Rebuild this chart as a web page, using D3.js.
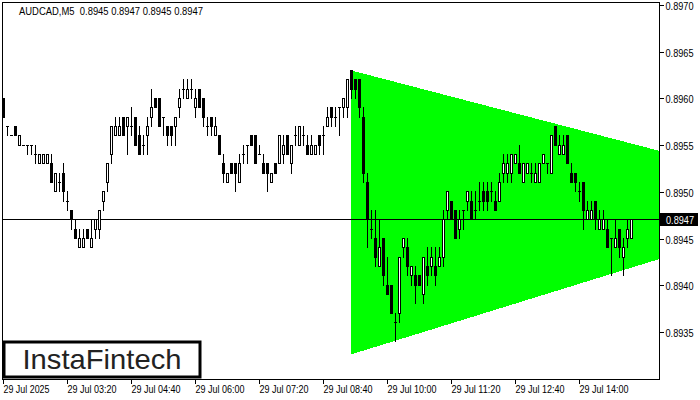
<!DOCTYPE html>
<html><head><meta charset="utf-8">
<script src="https://cdn.jsdelivr.net/npm/d3@7"></script>
<style>
body{margin:0;background:#fff}
svg{display:block}
text{font-family:"Liberation Sans",Arial,sans-serif}
</style>
</head><body>
<svg id="chart" width="700" height="400"></svg>
<script>
const titleText = "AUDCAD,M5  0.8945 0.8947 0.8945 0.8947";
const logoText = "InstaFintech";

const openP = [0.8960,0.8957,0.8956,0.8957,0.8955,0.8955,0.8955,0.8955,0.8954,0.8953,0.8953,0.8953,0.8953,0.8950,0.8951,0.8952,0.8949,0.8948,0.8946,0.8944,
0.8944,0.8946,0.8944,0.8946,0.8946,0.8949,0.8951,0.8954,0.8956,0.8956,0.8958,0.8957,0.8957,0.8958,0.8956,0.8955,0.8956,0.8958,0.8960,0.8960,
0.8958,0.8957,0.8957,0.8957,0.8959,0.8961,0.8960,0.8961,0.8959,0.8961,0.8960,0.8957,0.8958,0.8956,0.8956,0.8953,0.8951,0.8953,0.8953,0.8951,
0.8954,0.8955,0.8956,0.8956,0.8954,0.8953,0.8953,0.8951,0.8953,0.8953,0.8954,0.8956,0.8953,0.8956,0.8955,0.8956,0.8955,0.8954,0.8954,0.8956,
0.8956,0.8957,0.8959,0.8958,0.8959,0.8959,0.8959,0.8963,0.8962,0.8962,0.8958,0.8951,0.8946,0.8945,0.8942,0.8945,0.8940,0.8940,0.8936,0.8937,
0.8944,0.8944,0.8941,0.8941,0.8941,0.8939,0.8942,0.8942,0.8942,0.8942,0.8943,0.8948,0.8949,0.8948,0.8946,0.8948,0.8949,0.8949,0.8948,0.8949,
0.8950,0.8950,0.8950,0.8949,0.8949,0.8952,0.8952,0.8952,0.8953,0.8953,0.8951,0.8952,0.8952,0.8951,0.8951,0.8953,0.8953,0.8952,0.8957,0.8954,
0.8954,0.8956,0.8952,0.8952,0.8950,0.8951,0.8947,0.8947,0.8949,0.8946,0.8946,0.8946,0.8945,0.8944,0.8946,0.8943,0.8945,0.8945];
const highP = [0.8960,0.8957,0.8956,0.8957,0.8956,0.8955,0.8955,0.8955,0.8955,0.8954,0.8954,0.8954,0.8954,0.8952,0.8952,0.8953,0.8950,0.8948,0.8947,0.8946,
0.8946,0.8946,0.8947,0.8947,0.8948,0.8950,0.8953,0.8957,0.8958,0.8958,0.8958,0.8958,0.8959,0.8958,0.8957,0.8956,0.8958,0.8961,0.8960,0.8960,
0.8958,0.8957,0.8957,0.8958,0.8961,0.8962,0.8962,0.8962,0.8961,0.8961,0.8960,0.8958,0.8958,0.8958,0.8956,0.8954,0.8952,0.8953,0.8953,0.8954,
0.8955,0.8955,0.8956,0.8956,0.8955,0.8954,0.8953,0.8952,0.8953,0.8956,0.8956,0.8956,0.8955,0.8957,0.8957,0.8957,0.8956,0.8956,0.8955,0.8956,
0.8957,0.8959,0.8959,0.8959,0.8959,0.8960,0.8962,0.8963,0.8962,0.8962,0.8959,0.8952,0.8948,0.8948,0.8947,0.8945,0.8943,0.8940,0.8937,0.8943,
0.8945,0.8945,0.8942,0.8942,0.8941,0.8943,0.8944,0.8944,0.8944,0.8944,0.8948,0.8950,0.8949,0.8948,0.8948,0.8948,0.8950,0.8950,0.8950,0.8951,
0.8951,0.8951,0.8951,0.8950,0.8952,0.8954,0.8954,0.8954,0.8954,0.8955,0.8953,0.8953,0.8953,0.8953,0.8953,0.8954,0.8953,0.8956,0.8957,0.8956,
0.8956,0.8956,0.8953,0.8952,0.8951,0.8951,0.8949,0.8949,0.8949,0.8948,0.8948,0.8947,0.8945,0.8947,0.8946,0.8945,0.8947,0.8947];
const lowP = [0.8958,0.8956,0.8956,0.8956,0.8955,0.8955,0.8954,0.8954,0.8953,0.8953,0.8953,0.8953,0.8951,0.8950,0.8950,0.8949,0.8948,0.8946,0.8945,0.8944,
0.8944,0.8945,0.8944,0.8945,0.8945,0.8948,0.8950,0.8953,0.8956,0.8956,0.8956,0.8954,0.8956,0.8955,0.8954,0.8954,0.8954,0.8957,0.8959,0.8957,
0.8956,0.8955,0.8955,0.8955,0.8958,0.8960,0.8960,0.8960,0.8958,0.8959,0.8957,0.8956,0.8956,0.8956,0.8954,0.8951,0.8951,0.8952,0.8950,0.8951,
0.8953,0.8953,0.8955,0.8953,0.8954,0.8952,0.8950,0.8951,0.8952,0.8953,0.8953,0.8954,0.8952,0.8955,0.8955,0.8955,0.8954,0.8954,0.8954,0.8954,
0.8954,0.8957,0.8957,0.8957,0.8956,0.8958,0.8958,0.8960,0.8960,0.8958,0.8951,0.8944,0.8945,0.8942,0.8942,0.8940,0.8939,0.8937,0.8934,0.8936,
0.8943,0.8941,0.8940,0.8938,0.8940,0.8938,0.8940,0.8941,0.8940,0.8942,0.8942,0.8947,0.8947,0.8945,0.8945,0.8946,0.8948,0.8947,0.8947,0.8948,
0.8948,0.8948,0.8949,0.8948,0.8949,0.8951,0.8951,0.8951,0.8953,0.8952,0.8951,0.8952,0.8951,0.8951,0.8951,0.8953,0.8952,0.8952,0.8955,0.8954,
0.8954,0.8953,0.8951,0.8950,0.8949,0.8946,0.8947,0.8947,0.8946,0.8946,0.8946,0.8944,0.8941,0.8944,0.8943,0.8941,0.8944,0.8945];
const closeP = [0.8958,0.8957,0.8956,0.8956,0.8956,0.8955,0.8955,0.8955,0.8954,0.8954,0.8954,0.8954,0.8951,0.8952,0.8951,0.8950,0.8949,0.8947,0.8945,0.8945,
0.8945,0.8945,0.8945,0.8947,0.8948,0.8950,0.8953,0.8957,0.8957,0.8957,0.8956,0.8958,0.8957,0.8955,0.8954,0.8955,0.8957,0.8959,0.8959,0.8957,
0.8958,0.8956,0.8956,0.8958,0.8960,0.8961,0.8961,0.8961,0.8960,0.8959,0.8958,0.8957,0.8957,0.8957,0.8954,0.8952,0.8952,0.8952,0.8952,0.8953,
0.8954,0.8955,0.8955,0.8953,0.8954,0.8952,0.8952,0.8952,0.8952,0.8956,0.8955,0.8954,0.8955,0.8956,0.8957,0.8956,0.8954,0.8955,0.8955,0.8955,
0.8956,0.8958,0.8958,0.8958,0.8959,0.8960,0.8962,0.8961,0.8961,0.8959,0.8952,0.8947,0.8946,0.8943,0.8944,0.8941,0.8939,0.8937,0.8936,0.8943,
0.8945,0.8942,0.8942,0.8940,0.8940,0.8943,0.8941,0.8943,0.8941,0.8943,0.8947,0.8950,0.8947,0.8945,0.8947,0.8948,0.8950,0.8947,0.8948,0.8949,
0.8949,0.8949,0.8950,0.8948,0.8951,0.8953,0.8953,0.8954,0.8954,0.8952,0.8953,0.8953,0.8952,0.8952,0.8953,0.8954,0.8953,0.8956,0.8955,0.8955,
0.8955,0.8953,0.8951,0.8951,0.8950,0.8948,0.8948,0.8948,0.8947,0.8947,0.8947,0.8944,0.8945,0.8945,0.8944,0.8944,0.8946,0.8947];

const xTickBars = [0,16,32,48,64,80,96,112,128,144];
const xTickLabels = ["29 Jul 2025","29 Jul 03:20","29 Jul 04:40","29 Jul 06:00","29 Jul 07:20","29 Jul 08:40","29 Jul 10:00","29 Jul 11:20","29 Jul 12:40","29 Jul 14:00"];
const yTickValues = [0.8935,0.8940,0.8945,0.8950,0.8955,0.8960,0.8965,0.8970];
const yTickLabels = ["0.8935","0.8940","0.8945","0.8950","0.8955","0.8960","0.8965","0.8970"];
const currentPrice = 0.8947;
const currentLabel = "0.8947";
const triangleBars = [87,164,164,87];
const trianglePrices = [0.8963,0.89544,0.89428,0.89326];

const svg = d3.select("#chart");
const L = 2.5, T = 2.5, R = 659.5, B = 379.5;
const x = d3.scaleLinear().domain([0,164]).range([3,659]);
const y = d3.scaleLinear().domain([0.8930,0.8970]).range([378.72,5]);

svg.append("rect").attr("width",700).attr("height",400).attr("fill","#fff");
svg.append("defs").append("clipPath").attr("id","plot")
  .append("rect").attr("x",L).attr("y",T).attr("width",R-L).attr("height",B-T);

const plot = svg.append("g").attr("clip-path","url(#plot)");

// triangle
plot.append("polygon")
  .attr("points", triangleBars.map((b,i)=>[x(b), y(trianglePrices[i])].join(",")).join(" "))
  .attr("fill","#00ff00").attr("shape-rendering","crispEdges");

// current price line
plot.append("rect").attr("x",L).attr("width",R-L).attr("y",Math.floor(y(currentPrice))).attr("height",1).attr("fill","#000");

// candles
const candles = plot.append("g").attr("shape-rendering","crispEdges");
openP.forEach((o,i)=>{
  const c = closeP[i], h = highP[i], l = lowP[i];
  const cx = Math.round(x(i));
  const yh = Math.floor(y(h)), yl = Math.floor(y(l));
  const yt = Math.floor(y(Math.max(o,c))), yb = Math.floor(y(Math.min(o,c)));
  candles.append("rect").attr("x",cx).attr("width",1).attr("y",yh).attr("height",yl-yh+1).attr("fill","#000");
  candles.append("rect").attr("x",cx-1).attr("width",3).attr("y",yt).attr("height",yb-yt+1).attr("fill","#000");
  if (c > o && yb-yt-1 > 0) {
    candles.append("rect").attr("x",cx).attr("width",1).attr("y",yt+1).attr("height",yb-yt-1).attr("fill","#fff");
  }
});

// frame
svg.append("rect").attr("x",L).attr("y",T).attr("width",R-L).attr("height",B-T)
  .attr("fill","none").attr("stroke","#000").attr("stroke-width",1);

// right axis
const yAxis = svg.append("g").attr("transform",`translate(${R},0)`)
  .call(d3.axisRight(y).tickValues(yTickValues).tickSize(4).tickFormat((d,i)=>yTickLabels[i]));
yAxis.select(".domain").remove();
yAxis.selectAll("line").attr("stroke","#000").attr("shape-rendering","crispEdges");
yAxis.selectAll("text").attr("x",6).attr("dy",null).attr("dominant-baseline",null)
  .attr("y",4.5).attr("font-size",11).attr("fill","#000")
  .attr("font-family","Liberation Sans, Arial, sans-serif")
  .attr("textLength",28).attr("lengthAdjust","spacingAndGlyphs");

// current price label
const cy = Math.floor(y(currentPrice));
svg.append("rect").attr("x",660).attr("y",cy-6).attr("width",38).attr("height",13).attr("fill","#000");
svg.append("text").attr("x",666).attr("y",cy+4.5).attr("font-size",11).attr("fill","#fff")
  .attr("textLength",28).attr("lengthAdjust","spacingAndGlyphs").text(currentLabel);

// bottom axis
const xAxis = svg.append("g").attr("transform",`translate(0,${B})`)
  .call(d3.axisBottom(x).tickValues(xTickBars).tickSize(4).tickFormat((d,i)=>xTickLabels[i]));
xAxis.select(".domain").remove();
xAxis.selectAll("line").attr("stroke","#000").attr("shape-rendering","crispEdges");
xAxis.selectAll("text").attr("text-anchor","start").attr("x",0).attr("dy",null)
  .attr("y",13).attr("font-size",11).attr("fill","#000")
  .attr("font-family","Liberation Sans, Arial, sans-serif")
  .attr("textLength",(d,i)=> i===0 ? 46 : 49).attr("lengthAdjust","spacingAndGlyphs");

// title
svg.append("text").attr("x",19).attr("y",15).attr("font-size",11).attr("fill","#000")
  .style("white-space","pre").attr("textLength",184).attr("lengthAdjust","spacingAndGlyphs")
  .text(titleText);

// logo
svg.append("rect").attr("x",4).attr("y",342).attr("width",196).attr("height",35)
  .attr("fill","#fff").attr("stroke","#000").attr("stroke-width",3);
svg.append("text").attr("x",22.5).attr("y",369).attr("font-size",28)
  .attr("font-family","Inter, Lato, sans-serif").attr("font-weight",500).attr("fill","#222")
  .attr("textLength",159).attr("lengthAdjust","spacingAndGlyphs").text(logoText);
</script>
</body></html>
